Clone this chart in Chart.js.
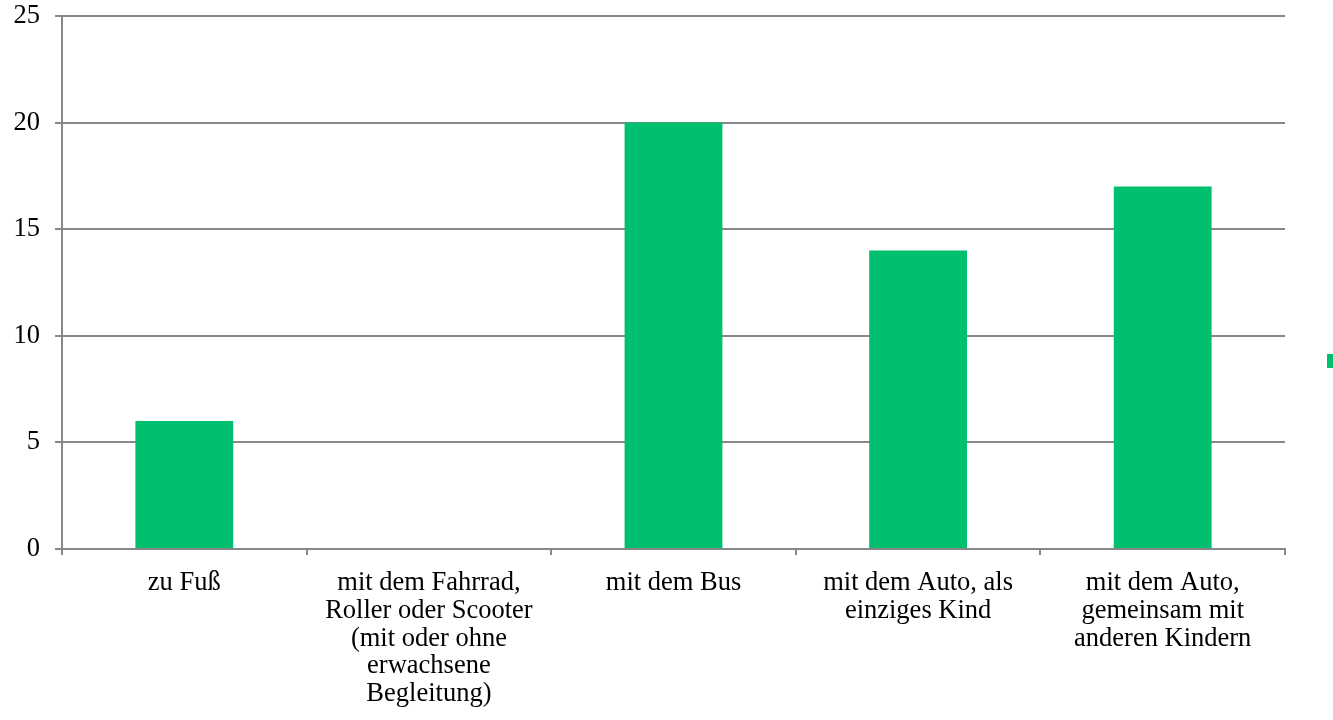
<!DOCTYPE html>
<html lang="de">
<head>
<meta charset="utf-8">
<title>Schulweg</title>
<script src="https://cdn.jsdelivr.net/npm/chart.js@4/dist/chart.umd.min.js"></script>
<style>
    html, body { margin: 0; padding: 0; background: #fff; overflow: hidden; }
    #wrap { width: 1333px; height: 720px; overflow: hidden; }
</style>
</head>
<body>
<div id="wrap"><canvas id="wegChart" width="1357" height="720"></canvas></div>
<script>
    // Kategorien (mehrzeilig) und Werte
    const kategorien = [
        ['zu Fuß'],
        ['mit dem Fahrrad,', 'Roller oder Scooter', '(mit oder ohne', 'erwachsene', 'Begleitung)'],
        ['mit dem Bus'],
        ['mit dem Auto, als', 'einziges Kind'],
        ['mit dem Auto,', 'gemeinsam mit', 'anderen Kindern']
    ];
    const anzahl = [6, 0, 20, 14, 17];
    const yTicks = [0, 5, 10, 15, 20, 25];

    const gruen = '#00bf6f';
    const grau = '#888888';
    const serif = "'Liberation Serif', 'Times New Roman', serif";

    const ctx = document.getElementById('wegChart').getContext('2d');
    new Chart(ctx, {
        type: 'bar',
        data: {
            labels: kategorien,
            datasets: [{
                label: '',
                data: anzahl,
                backgroundColor: gruen,
                borderWidth: 0,
                barPercentage: 0.4,
                categoryPercentage: 1.0
            }]
        },
        options: {
            responsive: false,
            animation: false,
            layout: { padding: { top: 2, left: 0, right: 0, bottom: 0 } },
            plugins: {
                legend: {
                    display: true,
                    position: 'right',
                    labels: {
                        boxWidth: 14,
                        boxHeight: 14,
                        padding: 42,
                        font: { size: 12 }
                    }
                },
                tooltip: { enabled: false }
            },
            scales: {
                x: {
                    grid: {
                        offset: true,
                        drawOnChartArea: false,
                        drawTicks: true,
                        tickLength: 6,
                        color: grau,
                        lineWidth: 2
                    },
                    border: { display: true, color: grau, width: 2 },
                    ticks: {
                        color: '#000',
                        font: { family: serif, size: 26.5, lineHeight: 1.05 },
                        padding: 14,
                        maxRotation: 0,
                        autoSkip: false
                    },
                    afterFit: function(scale) { scale.height = 171; }
                },
                y: {
                    min: 0,
                    max: 25,
                    afterBuildTicks: function(scale) {
                        scale.ticks = yTicks.map(v => ({ value: v }));
                    },
                    grid: {
                        color: grau,
                        lineWidth: 2,
                        tickLength: 7
                    },
                    border: { display: true, color: grau, width: 2 },
                    ticks: {
                        color: '#000',
                        font: { family: serif, size: 26.5, lineHeight: 1.12 },
                        padding: 15
                    },
                    afterFit: function(scale) {
                        scale.width = 62;
                        scale.paddingTop = 16;
                        scale.paddingBottom = 0;
                    }
                }
            }
        }
    });
</script>
</body>
</html>
